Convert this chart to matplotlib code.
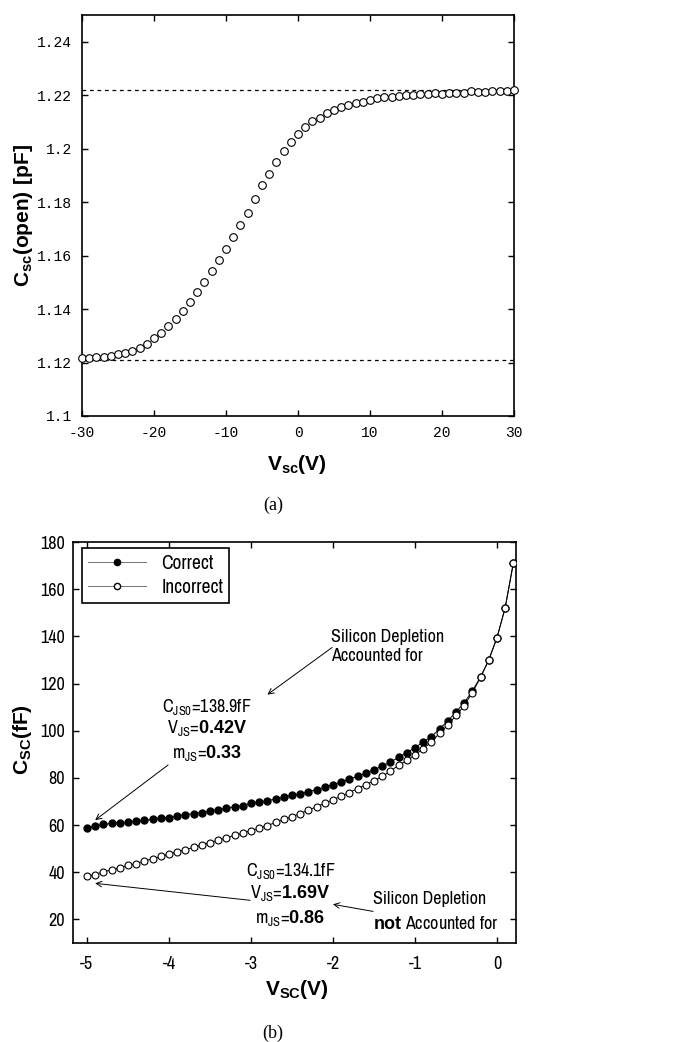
import matplotlib
matplotlib.use('Agg')
import matplotlib.pyplot as plt
import numpy as np
from matplotlib import font_manager
from matplotlib.lines import Line2D

plt.rcParams['axes.unicode_minus'] = False

# look for any condensed sans face; fall back to Liberation Sans
narrow = None
for f in font_manager.fontManager.ttflist:
    if ('Narrow' in f.name or 'Condensed' in f.name) and 'Mono' not in f.name \
            and 'Serif' not in f.name:
        narrow = f.name
        break
if narrow is None:
    narrow = 'Liberation Sans'
small = 13 if narrow != 'Liberation Sans' else 11.5

plt.rcParams['mathtext.fontset'] = 'custom'
plt.rcParams['mathtext.rm'] = narrow
plt.rcParams['mathtext.bf'] = 'Liberation Sans:bold'

# ---- data, panel (a) ----
v_open = np.arange(-30, 31)
c_open = [1.1216, 1.1217, 1.1221, 1.1221, 1.1225, 1.1230, 1.1236, 1.1244, 1.1256, 1.1269,
          1.1290, 1.1309, 1.1338, 1.1363, 1.1394, 1.1428, 1.1465, 1.1503, 1.1543, 1.1584,
          1.1625, 1.1668, 1.1714, 1.1759, 1.1811, 1.1863, 1.1906, 1.1950, 1.1993, 1.2025,
          1.2056, 1.2081, 1.2103, 1.2115, 1.2134, 1.2146, 1.2156, 1.2165, 1.2170, 1.2175,
          1.2183, 1.2188, 1.2193, 1.2194, 1.2196, 1.2200, 1.2199, 1.2203, 1.2203, 1.2208,
          1.2206, 1.2209, 1.2209, 1.2208, 1.2214, 1.2211, 1.2213, 1.2214, 1.2216, 1.2216,
          1.2219]
c_high = 1.222
c_low = 1.121
yticks_a = [1.1, 1.12, 1.14, 1.16, 1.18, 1.2, 1.22, 1.24]
ylabels_a = ['1.1', '1.12', '1.14', '1.16', '1.18', '1.2', '1.22', '1.24']
xticks_a = [-30, -20, -10, 0, 10, 20, 30]

# ---- data, panel (b) ----
v_sc = np.round(np.arange(-50, 3) / 10.0, 1)
c_correct = [58.8, 59.5, 60.3, 60.7, 61.0, 61.2, 61.7, 62.0, 62.4, 62.8,
             63.2, 63.8, 64.4, 64.9, 65.3, 65.9, 66.6, 67.2, 67.8, 68.3,
             69.2, 69.7, 70.4, 71.0, 71.9, 72.6, 73.3, 74.1, 75.0, 76.0,
             77.2, 78.2, 79.5, 80.6, 82.0, 83.5, 85.0, 86.7, 88.7, 90.7,
             92.8, 95.2, 97.5, 100.8, 104.2, 107.9, 111.9, 116.8, 122.8, 130.0,
             139.4, 152.1, 171.1]
c_incorrect = [38.3, 39.0, 40.2, 41.0, 42.0, 42.9, 43.7, 44.8, 45.7, 46.7,
               47.7, 48.7, 49.5, 50.6, 51.6, 52.6, 53.6, 54.6, 55.6, 56.6,
               57.7, 58.7, 59.8, 61.1, 62.4, 63.6, 64.9, 66.3, 67.8, 69.3,
               70.7, 72.3, 73.8, 75.5, 77.1, 78.8, 80.6, 82.9, 85.3, 87.4,
               89.7, 92.4, 95.2, 98.9, 102.4, 106.5, 110.6, 116.2, 122.6, 130.0,
               139.4, 152.1, 171.1]
xticks_b = [-5, -4, -3, -2, -1, 0]
yticks_b = [20, 40, 60, 80, 100, 120, 140, 160, 180]

fig = plt.figure(figsize=(6.74, 10.42), dpi=100)

# ================= panel (a) =================
ax1 = fig.add_axes([0.1217, 0.6008, 0.641, 0.3848])
ax1.plot([-30, 30], [c_high, c_high], color='black', lw=0.9, ls=(0, (3, 3)), zorder=1)
ax1.plot([-30, 30], [c_low, c_low], color='black', lw=0.9, ls=(0, (3, 3)), zorder=1)
ax1.plot(v_open, c_open, ls='none', marker='o', ms=5.5, mfc='white', mec='black',
         mew=0.8, zorder=3, clip_on=False)
ax1.set_xlim(-30, 30)
ax1.set_ylim(1.1, 1.25)
ax1.set_yticks(yticks_a)
ax1.set_yticklabels(ylabels_a)
ax1.set_xticks(xticks_a)
ax1.tick_params(direction='in', length=4, width=1, top=True, right=True, pad=7,
                labelsize=10.5)
for lab in ax1.get_xticklabels() + ax1.get_yticklabels():
    lab.set_family('Liberation Mono')
for sp in ax1.spines.values():
    sp.set_linewidth(1.2)
fig.text(0.035, 0.793, r'$\mathbf{C_{sc}(open)\ [pF]}$', rotation=90,
         ha='center', va='center', fontsize=15)
fig.text(0.441, 0.554, r'$\mathbf{V_{sc}(V)}$', ha='center', va='center', fontsize=15)
fig.text(0.405, 0.515, '(a)', ha='center', va='center', fontsize=13,
         family='Liberation Serif')

# ================= panel (b) =================
ax2 = fig.add_axes([0.1083, 0.095, 0.657, 0.3848])
ax2.plot(v_sc, c_correct, color='black', lw=0.7, marker='o', ms=5, mfc='black',
         mec='black', zorder=3)
ax2.plot(v_sc, c_incorrect, color='black', lw=0.7, marker='o', ms=5, mfc='white',
         mec='black', mew=0.8, zorder=4)
ax2.set_xlim(-5.17, 0.23)
ax2.set_ylim(10, 180)
ax2.set_xticks(xticks_b)
ax2.set_yticks(yticks_b)
ax2.tick_params(direction='in', length=4, width=1, top=True, right=True, labelsize=13)
ax2.tick_params(axis='x', pad=9)
ax2.tick_params(axis='y', pad=6)
for lab in ax2.get_xticklabels() + ax2.get_yticklabels():
    lab.set_family(narrow)
for sp in ax2.spines.values():
    sp.set_linewidth(1.2)

handles = [Line2D([], [], color='0.45', lw=0.7, marker='o', ms=4.5, mfc='black', mec='black'),
           Line2D([], [], color='0.45', lw=0.7, marker='o', ms=4.5, mfc='white', mec='black')]
leg = ax2.legend(handles, ['Correct', 'Incorrect'], loc='upper left',
                 bbox_to_anchor=(0.02, 0.985), borderaxespad=0, fancybox=False,
                 edgecolor='black', framealpha=1, handlelength=3.0,
                 prop={'family': narrow, 'size': 14}, borderpad=0.3,
                 labelspacing=0.25, handletextpad=0.8)
leg.get_frame().set_linewidth(1.2)

arrow = dict(arrowstyle='->', color='black', lw=0.7, shrinkA=0, shrinkB=0)
tfont = {'family': narrow, 'size': small}

ax2.text(-2.02, 135.7, 'Silicon Depletion\nAccounted for', ha='left', va='center',
         linespacing=1.3, **tfont)
ax2.annotate('', xy=(-2.80, 115.3), xytext=(-2.01, 135.3), arrowprops=arrow)

ax2.text(-3.54, 110.2, r'C$_\mathrm{JS0}$=138.9fF', ha='center', va='center', **tfont)
ax2.text(-3.54, 101.3, r'V$_\mathrm{JS}$=$\mathbf{0.42V}$', ha='center', va='center', **tfont)
ax2.text(-3.54, 90.6, r'm$_\mathrm{JS}$=$\mathbf{0.33}$', ha='center', va='center', **tfont)
ax2.annotate('', xy=(-4.90, 62.1), xytext=(-4.01, 85.5), arrowprops=arrow)

ax2.text(-2.52, 40.4, r'C$_\mathrm{JS0}$=134.1fF', ha='center', va='center', **tfont)
ax2.text(-2.52, 31.1, r'V$_\mathrm{JS}$=$\mathbf{1.69V}$', ha='center', va='center', **tfont)
ax2.text(-2.52, 20.4, r'm$_\mathrm{JS}$=$\mathbf{0.86}$', ha='center', va='center', **tfont)
ax2.annotate('', xy=(-4.90, 35.3), xytext=(-3.01, 28.1), arrowprops=arrow)

ax2.text(-1.51, 28.5, 'Silicon Depletion', ha='left', va='center', **tfont)
ax2.text(-1.51, 18.3, r'$\mathbf{not}$ Accounted for', ha='left', va='center', **tfont)
ax2.annotate('', xy=(-2.0, 26.4), xytext=(-1.51, 23.4), arrowprops=arrow)

fig.text(0.033, 0.29, r'$\mathbf{C_{SC}(fF)}$', rotation=90, ha='center', va='center',
         fontsize=15)
fig.text(0.441, 0.05, r'$\mathbf{V_{SC}(V)}$', ha='center', va='center', fontsize=15)
fig.text(0.405, 0.0086, '(b)', ha='center', va='center', fontsize=13,
         family='Liberation Serif')

fig.savefig('out.png', dpi=100)
